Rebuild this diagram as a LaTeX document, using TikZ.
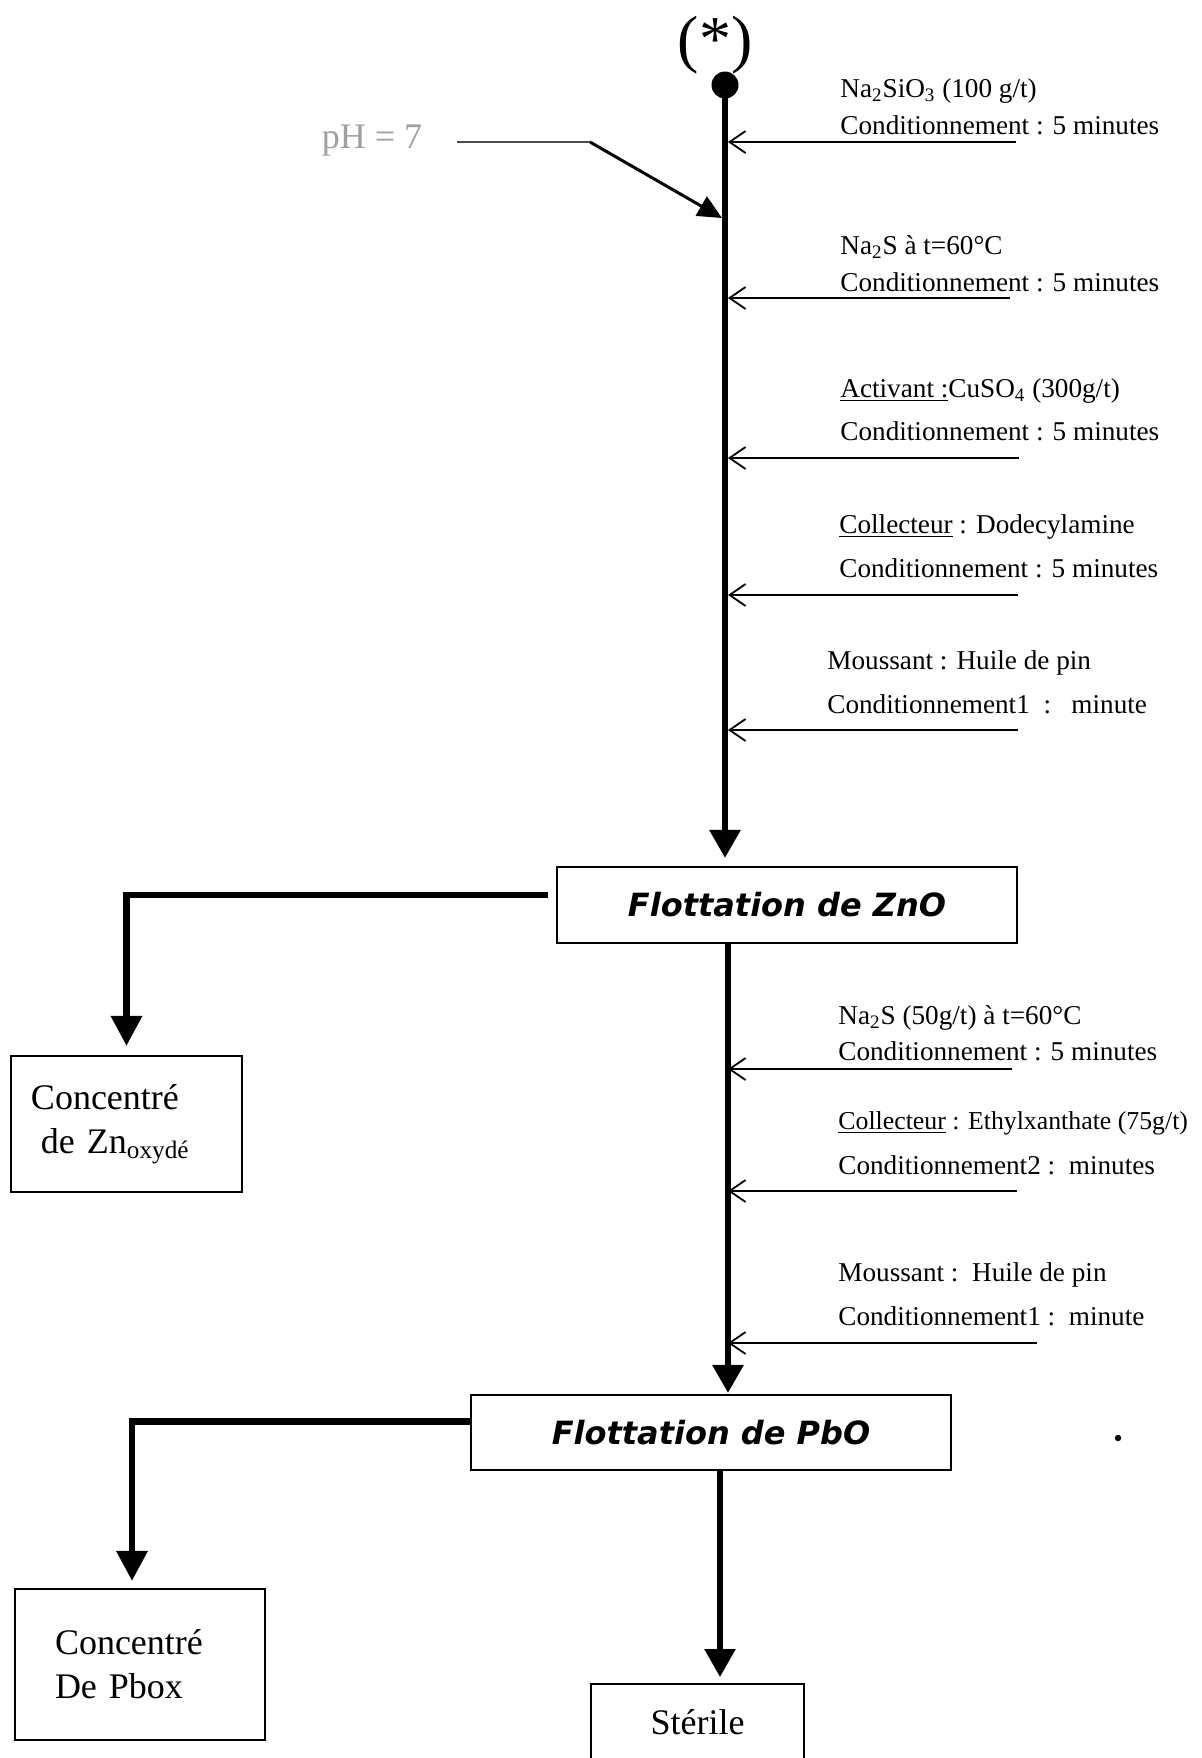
\documentclass[tikz,border=0pt]{standalone}
\usepackage{fontspec}
\setmainfont{Liberation Serif}
\newfontfamily\flowsans{DejaVu Sans}
\usetikzlibrary{arrows.meta}

\begin{document}
\begin{tikzpicture}[x=0.5pt,y=-0.5pt,
  flowbox/.style={draw,line width=1.1pt,inner sep=0pt,align=center},
  stagebox/.style={flowbox,font=\flowsans\bfseries\itshape\fontsize{16}{19}\selectfont},
  outbox/.style={flowbox,font=\fontsize{18}{22}\selectfont},
  reagent/.style={anchor=west,inner sep=0pt,font=\fontsize{13.6}{16}\selectfont},
  mainflow/.style={line width=3pt,-{Triangle[width=15pt,length=14pt]}},
  branchflow/.style={line width=3.2pt,-{Triangle[width=15pt,length=15pt]}},
  dosing/.style={line width=0.9pt,-{Straight Barb[length=8pt,width=11pt]}}]

  \useasboundingbox (0,0) rectangle (1201,1758);
  \clip (0,0) rectangle (1201,1758);

  % Feed
  \node[font=\fontsize{32}{36}\selectfont] (FeedMark) at (715,45) {(*)};
  \node[circle,fill,inner sep=0pt,minimum size=13.5pt] (Feed) at (725,85) {};

  % pH
  \node[text=gray!75,font=\fontsize{18}{22}\selectfont] (PhLabel) at (372,141) {pH = 7};
  \coordinate (PhStart) at (457,142);
  \coordinate (PhBend) at (590,142);
  \coordinate (PhIn) at (722,218);
  \draw[line width=0.9pt,draw=black!70] (PhStart) to (PhBend);
  \draw[line width=1.5pt,-{Triangle[width=11pt,length=12pt]}] (PhBend) to (PhIn);

  % Conditionnement ZnO
  \node[reagent] (ReagentA) at (840,91) {Na\textsubscript{2}SiO\textsubscript{3} (100 g/t)};
  \node[reagent] (TimeA) at (840,125) {Conditionnement : 5 minutes};
  \coordinate (InletA) at (728,142);
  \coordinate (TapA) at (1016,142);

  \node[reagent] (ReagentB) at (840,247) {Na\textsubscript{2}S à t=60°C};
  \node[reagent] (TimeB) at (840,282) {Conditionnement : 5 minutes};
  \coordinate (InletB) at (728,298);
  \coordinate (TapB) at (1010,298);

  \node[reagent] (ReagentC) at (840,391) {\underline{Activant :}CuSO\textsubscript{4} (300g/t)};
  \node[reagent] (TimeC) at (840,431) {Conditionnement : 5 minutes};
  \coordinate (InletC) at (728,458);
  \coordinate (TapC) at (1019,458);

  \node[reagent] (ReagentD) at (839,527) {\underline{Collecteur} : Dodecylamine};
  \node[reagent] (TimeD) at (839,568) {Conditionnement : 5 minutes};
  \coordinate (InletD) at (728,595);
  \coordinate (TapD) at (1018,595);

  \node[reagent] (ReagentE) at (827,663) {Moussant : Huile de pin};
  \node[reagent] (TimeE) at (827,704) {Conditionnement1\ \ :\ \ \ minute};
  \coordinate (InletE) at (728,730);
  \coordinate (TapE) at (1018,730);

\draw[dosing] (TapA) to (InletA);
\draw[dosing] (TapB) to (InletB);
\draw[dosing] (TapC) to (InletC);
\draw[dosing] (TapD) to (InletD);
\draw[dosing] (TapE) to (InletE);

  % Flottation de ZnO
  \node[stagebox,minimum width=230pt,minimum height=38pt] (FlotZnO) at (787,905) {Flottation de ZnO};
  \node[outbox,align=left,inner xsep=10pt,text width=95.5pt,minimum height=68pt] (ConcZn) at (126.5,1124) {Concentré\\\hspace*{5pt}de Zn\textsubscript{oxydé}};

\draw[mainflow,shorten >=4pt] (Feed.center) to (Feed |- FlotZnO.north);
\draw[branchflow,shorten <=4pt,shorten >=4.5pt] ([yshift=5pt]FlotZnO.west) -| (ConcZn.north);

  % Conditionnement PbO
  \node[reagent] (ReagentF) at (838,1018) {Na\textsubscript{2}S (50g/t) à t=60°C};
  \node[reagent] (TimeF) at (838,1051) {Conditionnement : 5 minutes};
  \coordinate (InletF) at (728,1069);
  \coordinate (TapF) at (1012,1069);

  \node[reagent,font=\fontsize{12.9}{16}\selectfont] (ReagentG) at (838,1123) {\underline{Collecteur} : Ethylxanthate (75g/t)};
  \node[reagent] (TimeG) at (838,1165) {Conditionnement2 :\ \ minutes};
  \coordinate (InletG) at (728,1191);
  \coordinate (TapG) at (1017,1191);

  \node[reagent] (ReagentH) at (838,1275) {Moussant :\ \ Huile de pin};
  \node[reagent] (TimeH) at (838,1316) {Conditionnement1 :\ \ minute};
  \coordinate (InletH) at (728,1343);
  \coordinate (TapH) at (1037,1343);

\draw[dosing] (TapF) to (InletF);
\draw[dosing] (TapG) to (InletG);
\draw[dosing] (TapH) to (InletH);

  % Flottation de PbO
  \node[stagebox,minimum width=240pt,minimum height=37.5pt] (FlotPbO) at (711,1432.5) {Flottation de PbO};
  \node[outbox,align=left,inner xsep=20pt,text width=85pt,minimum height=75.5pt] (ConcPb) at (140,1664.5) {Concentré\\De Pbox};
  \node[outbox,minimum width=106.5pt,minimum height=38pt] (Sterile) at (697.5,1722) {Stérile};
  \coordinate (TailsIn) at (720,1684);

\draw[mainflow,shorten >=0.5pt] (FlotZnO.south -| InletF) to (FlotPbO.north -| InletF);
\draw[branchflow,shorten >=3.5pt] ([yshift=5.5pt]FlotPbO.west) -| ([xshift=-4pt]ConcPb.north);
\draw[mainflow,shorten >=3.5pt] (FlotPbO.south -| TailsIn) to (TailsIn);

  \fill (1118,1438) circle (1.6pt);

\end{tikzpicture}
\end{document}
